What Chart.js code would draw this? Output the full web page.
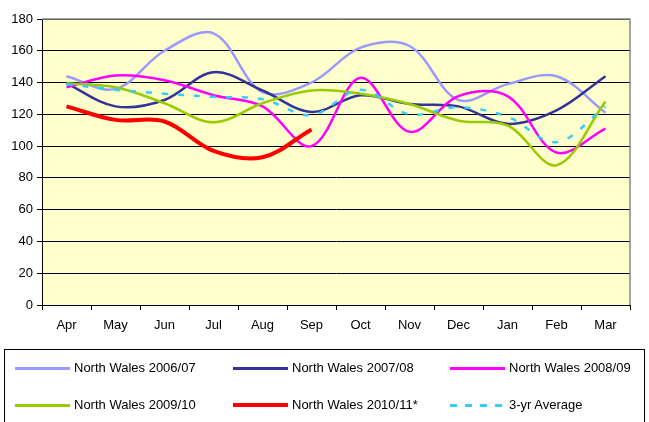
<!DOCTYPE html>
<html lang="en">
<head>
<meta charset="UTF-8">
<title>North Wales</title>
<script src="https://cdn.jsdelivr.net/npm/chart.js"></script>
<style>
    body {
        margin: 0;
        background: #fff;
        font-family: Arial, "Liberation Sans", sans-serif;
    }
    .wrap {
        position: relative;
        width: 649px;
        height: 422px;
        overflow: hidden;
    }
    canvas {
        position: absolute;
        left: 0;
        top: 0;
    }
    .legendBox {
        position: absolute;
        left: 4px;
        top: 349px;
        width: 641px;
        height: 100px;
        border: 1px solid #000;
        box-sizing: border-box;
    }
    .item {
        position: absolute;
        font-size: 13px;
        color: #000;
        white-space: nowrap;
        line-height: 16px;
    }
    .sample {
        position: absolute;
        width: 55px;
    }
</style>
</head>
<body>
<div class="wrap" id="wrap">
    <canvas id="chart" width="649" height="422"></canvas>
    <div class="legendBox"></div>
</div>

<script>
    // categories
    const months = ['Apr', 'May', 'Jun', 'Jul', 'Aug', 'Sep', 'Oct', 'Nov', 'Dec', 'Jan', 'Feb', 'Mar'];

    // series values
    const nw0607 = [144, 136, 160, 171, 134, 140, 162, 163, 129, 139, 144, 121];
    const nw0708 = [139.5, 125, 129, 146.5, 135, 121.5, 132, 126.5, 125, 114, 122.5, 144];
    const nw0809 = [137, 144.5, 141.5, 132, 125, 100, 143, 109, 131.5, 131.5, 96, 111];
    const nw0910 = [139.5, 137, 127, 115, 127, 135, 133, 126.5, 116, 113, 88, 128];
    const nw1011 = [125, 116.5, 115.5, 97, 93, 110.5];
    const avg3yr = [139, 135.5, 133, 131, 129.5, 119.5, 135.5, 120, 124.5, 118.5, 102.5, 125];

    const names = ['North Wales 2006/07', 'North Wales 2007/08', 'North Wales 2008/09',
                   'North Wales 2009/10', 'North Wales 2010/11*', '3-yr Average'];
    const colors = ['#9999FF', '#333399', '#FF00FF', '#99CC00', '#FF0000', '#33CCFF'];
    const widths = [2.5, 2.5, 2.5, 2.5, 4, 2.5];
    const series = [nw0607, nw0708, nw0809, nw0910, nw1011, avg3yr];

    const datasets = series.map((d, i) => ({
        label: names[i],
        data: d,
        borderColor: colors[i],
        backgroundColor: colors[i],
        borderWidth: widths[i],
        borderDash: i === 5 ? [6, 10] : [],
        pointRadius: 0,
        fill: false,
        tension: 0.35,
        order: 6 - i
    }));

    const plotDecor = {
        id: 'plotDecor',
        beforeDraw(chart) {
            const a = chart.chartArea, ctx = chart.ctx;
            ctx.save();
            ctx.fillStyle = '#FFFFCC';
            ctx.fillRect(a.left, a.top, a.right - a.left, a.bottom - a.top);
            ctx.restore();
        },
        beforeDatasetsDraw(chart) {
            const a = chart.chartArea, ctx = chart.ctx;
            ctx.save();
            ctx.strokeStyle = '#888';
            ctx.lineWidth = 1.5;
            ctx.beginPath();
            ctx.moveTo(a.left, a.top);
            ctx.lineTo(a.right, a.top);
            ctx.lineTo(a.right, a.bottom);
            ctx.stroke();
            ctx.restore();
        }
    };

    Chart.defaults.font.family = 'Arial, "Liberation Sans", sans-serif';

    const chart = new Chart(document.getElementById('chart').getContext('2d'), {
        type: 'line',
        data: { labels: months, datasets: datasets },
        options: {
            responsive: false,
            animation: false,
            layout: { padding: { top: 19, right: 19, left: 0, bottom: 0 } },
            plugins: { legend: { display: false }, tooltip: { enabled: false } },
            scales: {
                x: {
                    offset: true,
                    grid: { offset: true, drawOnChartArea: false, tickLength: 5, color: '#000' },
                    border: { color: '#000' },
                    ticks: { color: '#000', font: { size: 13 }, padding: 8, maxRotation: 0 },
                    afterFit(s) { s.height = 117; }
                },
                y: {
                    min: 0,
                    max: 180,
                    ticks: { stepSize: 20, color: '#000', font: { size: 13 }, padding: 4 },
                    grid: { color: '#000', tickLength: 5 },
                    border: { color: '#000' },
                    afterFit(s) { s.width = 42; }
                }
            }
        },
        plugins: [plotDecor]
    });

    // legend in a box, three fixed columns
    const colX = [15, 233, 450];
    const rowY = [368, 405];
    const wrap = document.getElementById('wrap');
    names.forEach((n, i) => {
        const x = colX[i % 3], y = rowY[Math.floor(i / 3)];
        const s = document.createElement('div');
        s.className = 'sample';
        const h = i === 4 ? 4 : 3;
        s.style.left = x + 'px';
        s.style.top = (y - h / 2) + 'px';
        s.style.height = h + 'px';
        if (i === 5) {
            s.style.background = 'repeating-linear-gradient(90deg, ' + colors[i] + ' 0 7px, transparent 7px 15px)';
        } else {
            s.style.background = colors[i];
        }
        wrap.appendChild(s);
        const t = document.createElement('div');
        t.className = 'item';
        t.textContent = n;
        t.style.left = (x + 59) + 'px';
        t.style.top = (y - 8) + 'px';
        wrap.appendChild(t);
    });
</script>
</body>
</html>
